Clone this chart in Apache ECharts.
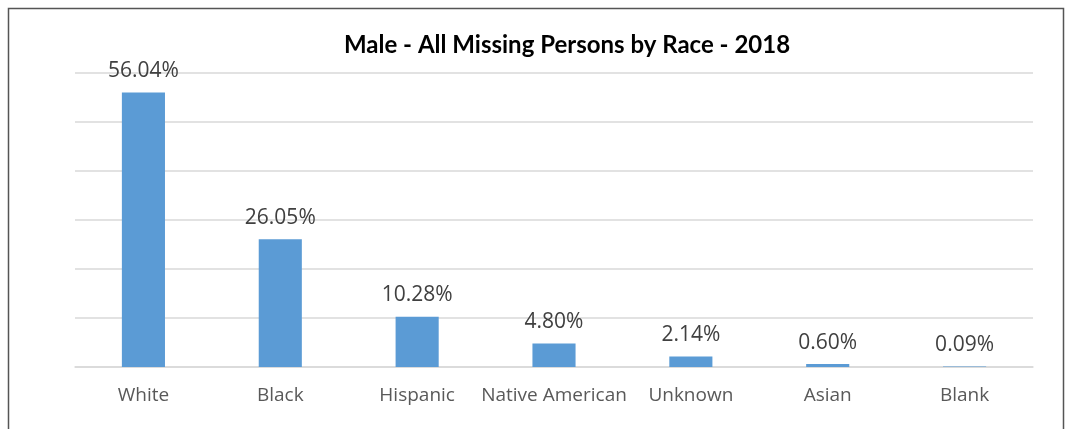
<!DOCTYPE html>
<html>
<head>
<meta charset="utf-8">
<script src="https://cdn.jsdelivr.net/npm/echarts@6/dist/echarts.min.js"></script>
<style>
html,body{margin:0;padding:0;background:#fff;}
#c{width:1068px;height:429px;}
</style>
</head>
<body>
<div id="c"></div>
<script>
var categories = ['White', 'Black', 'Hispanic', 'Native American', 'Unknown', 'Asian', 'Blank'];
var values = [56.04, 26.05, 10.28, 4.80, 2.14, 0.60, 0.09];
var titleText = 'Male - All Missing Persons by Race - 2018';

var chart = echarts.init(document.getElementById('c'), null, {renderer: 'canvas'});
chart.setOption({
  animation: false,
  backgroundColor: '#fff',
  title: {
    text: titleText,
    left: 562, top: 28, textAlign: 'center',
    textStyle: {fontFamily: 'Lato', fontWeight: 'bold', fontSize: 24, color: '#000'}
  },
  graphic: [{
    type: 'rect', silent: true,
    shape: {x: 8.5, y: 8.5, width: 1055, height: 440},
    style: {fill: 'none', stroke: '#555', lineWidth: 1.5}
  }],
  grid: {left: 75, right: 35, top: 73, bottom: 62},
  xAxis: {
    type: 'category', data: categories,
    axisLine: {lineStyle: {color: '#d9d9d9', width: 1.5}},
    axisTick: {show: false},
    axisLabel: {interval: 0, fontFamily: 'Open Sans', fontSize: 19, color: '#595959', margin: 19}
  },
  yAxis: {
    type: 'value', min: 0, max: 60, interval: 10,
    axisLabel: {show: false},
    axisLine: {show: false}, axisTick: {show: false},
    splitLine: {lineStyle: {color: '#d9d9d9', width: 1.5}}
  },
  series: [{
    type: 'bar', data: values, barWidth: '31.5%',
    itemStyle: {color: '#5b9bd5'},
    label: {
      show: true, position: 'top', distance: 11,
      fontFamily: 'Open Sans', fontSize: 21, color: '#404040',
      formatter: function (p) { return p.value.toFixed(2) + '%'; }
    }
  }]
});
</script>
</body>
</html>
